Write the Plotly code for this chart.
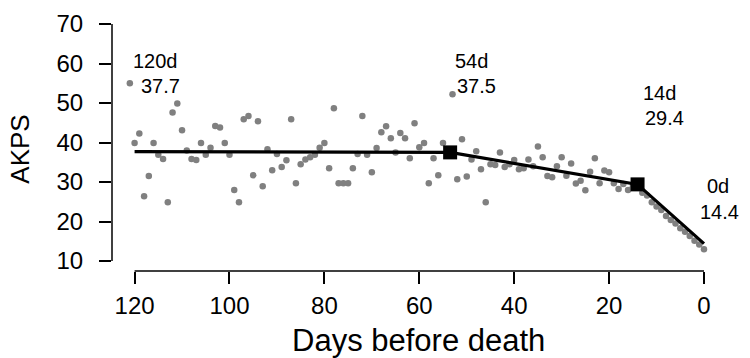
import plotly.graph_objects as go

# ---- data ----
days = list(range(121, -1, -1))
akps = [
    55.0, 39.9, 42.3, 26.4, 31.5, 39.9, 36.9, 35.8, 24.9, 47.6,
    49.9, 43.1, 38.0, 35.8, 35.6, 39.9, 36.9, 38.7, 44.2, 43.8,
    39.9, 36.9, 28.0, 24.9, 45.9, 46.7, 31.7, 45.4, 28.9, 38.3,
    33.0, 37.1, 33.8, 35.5, 45.9, 29.7, 34.5, 35.7, 36.3, 36.9,
    38.7, 39.9, 33.5, 48.7, 29.7, 29.7, 29.7, 33.5, 37.1, 46.7,
    36.9, 32.5, 38.6, 42.6, 44.1, 41.1, 37.5, 42.4, 41.1, 36.0,
    44.9, 38.8, 39.9, 29.7, 36.0, 31.7, 39.9, 37.2, 52.2, 30.7,
    40.8, 31.4, 35.7, 37.8, 33.2, 24.9, 34.5, 34.3, 37.5, 33.8,
    34.5, 35.6, 33.2, 33.5, 35.7, 34.0, 39.0, 36.3, 31.5, 31.2,
    34.0, 36.3, 31.6, 34.7, 29.6, 30.3, 27.9, 32.6, 36.0, 29.7,
    32.9, 32.5, 29.7, 28.2, 29.5, 28.0, 28.8, 28.8, 27.3, 26.6,
    24.9, 23.8, 22.9, 21.4, 20.4, 19.5, 18.3, 17.4, 16.3, 15.1,
    14.2, 13.0,
]
knot_days = [120, 53.5, 14, 0]
knot_values = [37.7, 37.5, 29.4, 14.4]
knot_day_labels = ["120d", "54d", "14d", "0d"]
knot_value_labels = ["37.7", "37.5", "29.4", "14.4"]
x_ticks = [120, 100, 80, 60, 40, 20, 0]
y_ticks = [10, 20, 30, 40, 50, 60, 70]

# ---- styles / label offsets (pixels) ----
day_label_shift = [(21, 91), (21, 91), (22, 91), (14, 58)]
val_label_shift = [(26, 66), (26, 66), (27, 66), (16, 32)]

FONT = "Liberation Sans, Arial, sans-serif"

fig = go.Figure()
fig.add_trace(go.Scatter(
    x=days, y=akps, mode="markers",
    marker=dict(color="#808080", size=6.5, line=dict(width=0)),
    showlegend=False, hoverinfo="skip",
))
fig.add_trace(go.Scatter(
    x=knot_days, y=knot_values, mode="lines",
    line=dict(color="black", width=3.2),
    showlegend=False, hoverinfo="skip",
))
fig.add_trace(go.Scatter(
    x=knot_days[1:3], y=knot_values[1:3], mode="markers",
    marker=dict(color="black", size=14, symbol="square", line=dict(width=0)),
    showlegend=False, hoverinfo="skip",
))

annotations = []
for i in range(len(knot_days)):
    dx, dy = day_label_shift[i]
    annotations.append(dict(
        x=knot_days[i], y=knot_values[i], xref="x", yref="y",
        text=knot_day_labels[i], showarrow=False,
        xshift=dx, yshift=dy, xanchor="center", yanchor="middle",
        font=dict(family=FONT, size=20, color="black"),
    ))
    vx, vy = val_label_shift[i]
    annotations.append(dict(
        x=knot_days[i], y=knot_values[i], xref="x", yref="y",
        text=knot_value_labels[i], showarrow=False,
        xshift=vx, yshift=vy, xanchor="center", yanchor="middle",
        font=dict(family=FONT, size=20, color="black"),
    ))

# axis titles
annotations.append(dict(
    x=0.5075, y=-0.268, xref="paper", yref="paper",
    text="Days before death", showarrow=False,
    xanchor="center", yanchor="middle",
    font=dict(family=FONT, size=31, color="black"),
))
annotations.append(dict(
    x=-0.1515, y=0.4667, xref="paper", yref="paper",
    text="AKPS", showarrow=False, textangle=-90,
    xanchor="center", yanchor="middle",
    font=dict(family=FONT, size=26, color="black"),
))

shapes = [
    dict(type="line", xref="x", yref="paper", x0=x_ticks[0], x1=x_ticks[-1],
         y0=0, y1=0, line=dict(color="black", width=1.5)),
    dict(type="line", xref="paper", yref="y", x0=0, x1=0,
         y0=y_ticks[0], y1=y_ticks[-1], line=dict(color="black", width=1.5)),
]

fig.update_layout(
    width=750, height=358, autosize=False,
    margin=dict(l=112, r=34, t=10, b=87, pad=0),
    plot_bgcolor="white", paper_bgcolor="white",
    annotations=annotations, shapes=shapes,
    xaxis=dict(
        range=[124.76, -2.53], tickvals=x_ticks, ticktext=[str(v) for v in x_ticks],
        ticks="outside", ticklen=12, tickwidth=1.5, tickcolor="black",
        showline=False, showgrid=False, zeroline=False,
        tickfont=dict(family=FONT, size=24, color="black"),
        ticklabelstandoff=1,
    ),
    yaxis=dict(
        range=[7.47, 73.55], tickvals=y_ticks, ticktext=[str(v) for v in y_ticks],
        ticks="outside", ticklen=12, tickwidth=1.5, tickcolor="black",
        showline=False, showgrid=False, zeroline=False,
        tickfont=dict(family=FONT, size=24, color="black"),
        ticklabelstandoff=11,
    ),
)

fig.write_html(
    "out.html",
    config={"displayModeBar": False},
    post_script="document.body.style.margin='0';document.body.style.padding='0';",
)
